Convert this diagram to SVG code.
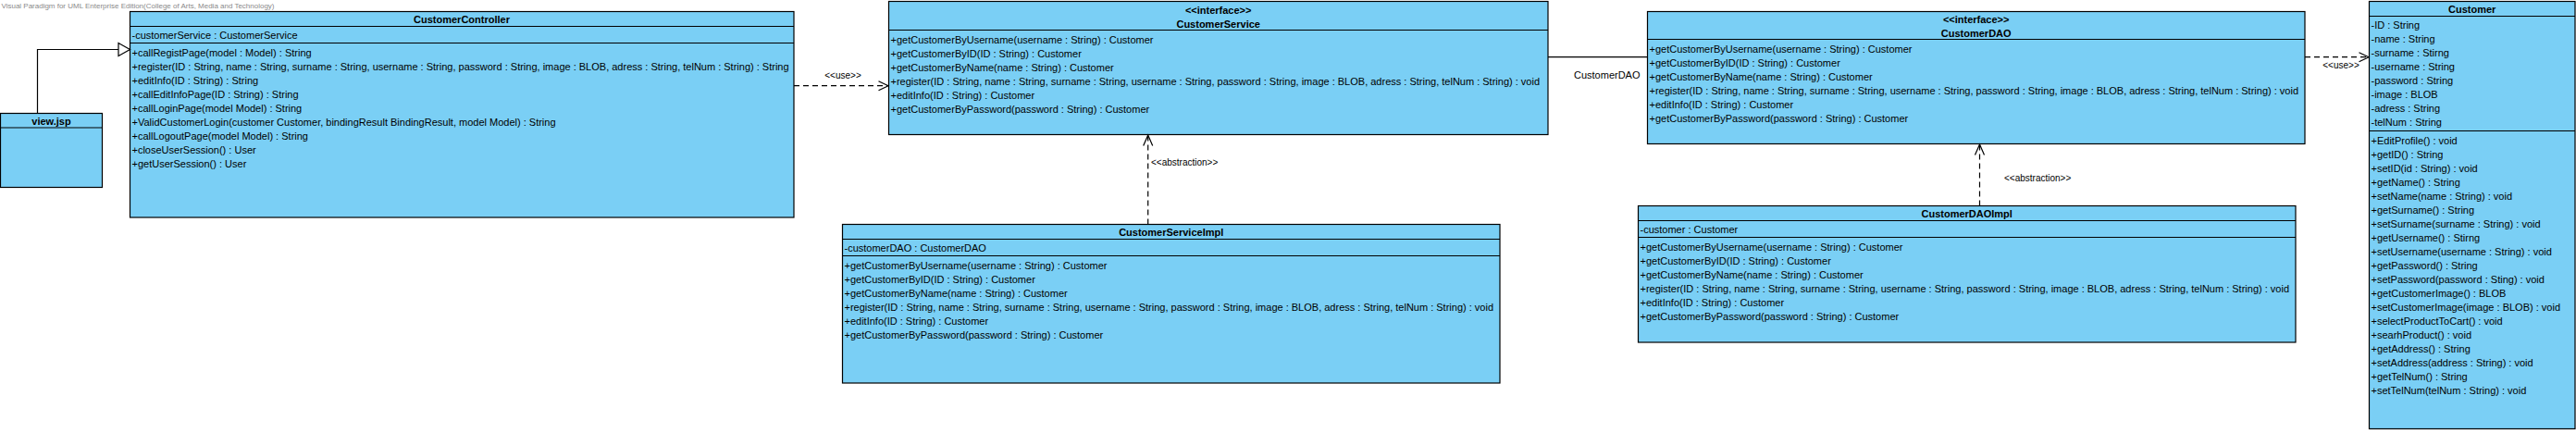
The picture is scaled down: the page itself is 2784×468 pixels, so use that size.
<svg xmlns="http://www.w3.org/2000/svg" width="2784" height="468" viewBox="0 0 2784 468">
<style>
.box{fill:#7ACFF5;stroke:#000;stroke-width:1.2}
.sep{stroke:#000;stroke-width:1.2}
text{font-family:"Liberation Sans",Arial,sans-serif;font-size:11px;fill:#000}
.h{font-weight:bold;text-anchor:middle}
.lbl{font-size:10px}
.wm{font-size:8px;fill:#8a8a8a}
.ln{fill:none;stroke:#000;stroke-width:1.2}
.dash{fill:none;stroke:#000;stroke-width:1.2;stroke-dasharray:6,4}
</style>
<rect width="2784" height="468" fill="#fff"/>
<text class="wm" x="1.5" y="9" textLength="295" lengthAdjust="spacingAndGlyphs">Visual Paradigm for UML Enterprise Edition(College of Arts, Media and Technology)</text>

<g id="view_jsp">
<rect class="box" x="0.5" y="122.5" width="110" height="80"/>
<line class="sep" x1="0.5" y1="138" x2="110.5" y2="138"/>
<text class="h" x="55.5" y="134.5">view.jsp</text>
</g>

<g id="CustomerController">
<rect class="box" x="140.5" y="12.5" width="717.5" height="222.5"/>
<line class="sep" x1="140.5" y1="28.5" x2="858" y2="28.5"/>
<line class="sep" x1="140.5" y1="46.5" x2="858" y2="46.5"/>
<text class="h" x="499" y="24.5">CustomerController</text>
<text x="142.5" y="41.5">-customerService : CustomerService</text>
<text x="142.5" y="60.7">+callRegistPage(model : Model) : String</text>
<text x="142.5" y="75.7">+register(ID : String, name : String, surname : String, username : String, password : String, image : BLOB, adress : String, telNum : String) : String</text>
<text x="142.5" y="90.7">+editInfo(ID : String) : String</text>
<text x="142.5" y="105.7">+callEditInfoPage(ID : String) : String</text>
<text x="142.5" y="120.7">+callLoginPage(model Model) : String</text>
<text x="142.5" y="135.7">+ValidCustomerLogin(customer Customer, bindingResult BindingResult, model Model) : String</text>
<text x="142.5" y="150.7">+callLogoutPage(model Model) : String</text>
<text x="142.5" y="165.7">+closeUserSession() : User</text>
<text x="142.5" y="180.7">+getUserSession() : User</text>
</g>

<g id="CustomerService">
<rect class="box" x="960.5" y="1.5" width="712.5" height="144"/>
<line class="sep" x1="960.5" y1="32.5" x2="1673" y2="32.5"/>
<text class="h" x="1316.7" y="14.5">&lt;&lt;interface&gt;&gt;</text>
<text class="h" x="1316.7" y="29.8">CustomerService</text>
<text x="962.5" y="46.7">+getCustomerByUsername(username : String) : Customer</text>
<text x="962.5" y="61.7">+getCustomerByID(ID : String) : Customer</text>
<text x="962.5" y="76.7">+getCustomerByName(name : String) : Customer</text>
<text x="962.5" y="91.7">+register(ID : String, name : String, surname : String, username : String, password : String, image : BLOB, adress : String, telNum : String) : void</text>
<text x="962.5" y="106.7">+editInfo(ID : String) : Customer</text>
<text x="962.5" y="121.7">+getCustomerByPassword(password : String) : Customer</text>
</g>

<g id="CustomerServiceImpl">
<rect class="box" x="910.5" y="242.5" width="710.5" height="171.5"/>
<line class="sep" x1="910.5" y1="258.5" x2="1621" y2="258.5"/>
<line class="sep" x1="910.5" y1="276.5" x2="1621" y2="276.5"/>
<text class="h" x="1265.7" y="254.5">CustomerServiceImpl</text>
<text x="912.5" y="271.7">-customerDAO : CustomerDAO</text>
<text x="912.5" y="290.7">+getCustomerByUsername(username : String) : Customer</text>
<text x="912.5" y="305.7">+getCustomerByID(ID : String) : Customer</text>
<text x="912.5" y="320.7">+getCustomerByName(name : String) : Customer</text>
<text x="912.5" y="335.7">+register(ID : String, name : String, surname : String, username : String, password : String, image : BLOB, adress : String, telNum : String) : void</text>
<text x="912.5" y="350.7">+editInfo(ID : String) : Customer</text>
<text x="912.5" y="365.7">+getCustomerByPassword(password : String) : Customer</text>
</g>

<g id="CustomerDAO">
<rect class="box" x="1780.5" y="12.5" width="710.5" height="143"/>
<line class="sep" x1="1780.5" y1="42.5" x2="2491" y2="42.5"/>
<text class="h" x="2135.7" y="25">&lt;&lt;interface&gt;&gt;</text>
<text class="h" x="2135.7" y="40.2">CustomerDAO</text>
<text x="1782.5" y="56.7">+getCustomerByUsername(username : String) : Customer</text>
<text x="1782.5" y="71.7">+getCustomerByID(ID : String) : Customer</text>
<text x="1782.5" y="86.7">+getCustomerByName(name : String) : Customer</text>
<text x="1782.5" y="101.7">+register(ID : String, name : String, surname : String, username : String, password : String, image : BLOB, adress : String, telNum : String) : void</text>
<text x="1782.5" y="116.7">+editInfo(ID : String) : Customer</text>
<text x="1782.5" y="131.7">+getCustomerByPassword(password : String) : Customer</text>
</g>

<g id="CustomerDAOImpl">
<rect class="box" x="1770.5" y="222.5" width="710.5" height="147.5"/>
<line class="sep" x1="1770.5" y1="238.5" x2="2481" y2="238.5"/>
<line class="sep" x1="1770.5" y1="256.5" x2="2481" y2="256.5"/>
<text class="h" x="2125.7" y="234.5">CustomerDAOImpl</text>
<text x="1772.5" y="251.7">-customer : Customer</text>
<text x="1772.5" y="270.7">+getCustomerByUsername(username : String) : Customer</text>
<text x="1772.5" y="285.7">+getCustomerByID(ID : String) : Customer</text>
<text x="1772.5" y="300.7">+getCustomerByName(name : String) : Customer</text>
<text x="1772.5" y="315.7">+register(ID : String, name : String, surname : String, username : String, password : String, image : BLOB, adress : String, telNum : String) : void</text>
<text x="1772.5" y="330.7">+editInfo(ID : String) : Customer</text>
<text x="1772.5" y="345.7">+getCustomerByPassword(password : String) : Customer</text>
</g>

<g id="Customer">
<rect class="box" x="2560.5" y="1.5" width="222.5" height="462"/>
<line class="sep" x1="2560.5" y1="17.5" x2="2783" y2="17.5"/>
<line class="sep" x1="2560.5" y1="141.5" x2="2783" y2="141.5"/>
<text class="h" x="2671.7" y="14">Customer</text>
<text x="2562.5" y="30.7">-ID : String</text>
<text x="2562.5" y="45.7">-name : String</text>
<text x="2562.5" y="60.7">-surname : Stirng</text>
<text x="2562.5" y="75.7">-username : String</text>
<text x="2562.5" y="90.7">-password : String</text>
<text x="2562.5" y="105.7">-image : BLOB</text>
<text x="2562.5" y="120.7">-adress : String</text>
<text x="2562.5" y="135.7">-telNum : String</text>
<text x="2562.5" y="155.7">+EditProfile() : void</text>
<text x="2562.5" y="170.7">+getID() : String</text>
<text x="2562.5" y="185.7">+setID(id : String) : void</text>
<text x="2562.5" y="200.7">+getName() : String</text>
<text x="2562.5" y="215.7">+setName(name : String) : void</text>
<text x="2562.5" y="230.7">+getSurname() : String</text>
<text x="2562.5" y="245.7">+setSurname(surname : String) : void</text>
<text x="2562.5" y="260.7">+getUsername() : Stirng</text>
<text x="2562.5" y="275.7">+setUsername(username : String) : void</text>
<text x="2562.5" y="290.7">+getPassword() : String</text>
<text x="2562.5" y="305.7">+setPassword(password : Sting) : void</text>
<text x="2562.5" y="320.7">+getCustomerImage() : BLOB</text>
<text x="2562.5" y="335.7">+setCustomerImage(image : BLOB) : void</text>
<text x="2562.5" y="350.7">+selectProductToCart() : void</text>
<text x="2562.5" y="365.7">+searhProduct() : void</text>
<text x="2562.5" y="380.7">+getAddress() : String</text>
<text x="2562.5" y="395.7">+setAddress(address : String) : void</text>
<text x="2562.5" y="410.7">+getTelNum() : String</text>
<text x="2562.5" y="425.7">+setTelNum(telNum : String) : void</text>
</g>

<g id="connectors">
<polyline class="ln" points="40.5,122.5 40.5,53.5 128,53.5"/>
<polygon points="140.5,53.5 128,46.5 128,60.5" fill="#fff" stroke="#000" stroke-width="1.2"/>

<line class="dash" x1="858" y1="92.7" x2="959" y2="92.7"/>
<polyline class="ln" points="949.5,87.7 960,92.7 949.5,97.7"/>
<text class="lbl" x="911" y="84.5" text-anchor="middle">&lt;&lt;use&gt;&gt;</text>

<line class="dash" x1="1240.7" y1="242.5" x2="1240.7" y2="147"/>
<polyline class="ln" points="1235.7,157.5 1240.7,146 1245.7,157.5"/>
<text class="lbl" x="1244" y="178.5">&lt;&lt;abstraction&gt;&gt;</text>

<line class="ln" x1="1673" y1="61.7" x2="1780.5" y2="61.7"/>
<text x="1701" y="85">CustomerDAO</text>

<line class="dash" x1="2139.5" y1="222.5" x2="2139.5" y2="157"/>
<polyline class="ln" points="2134.5,167.5 2139.5,156 2144.5,167.5"/>
<text class="lbl" x="2166" y="195.5">&lt;&lt;abstraction&gt;&gt;</text>

<line class="dash" x1="2491" y1="61.7" x2="2559" y2="61.7"/>
<polyline class="ln" points="2549.5,56.7 2560,61.7 2549.5,66.7"/>
<text class="lbl" x="2530" y="74" text-anchor="middle">&lt;&lt;use&gt;&gt;</text>
</g>
</svg>
